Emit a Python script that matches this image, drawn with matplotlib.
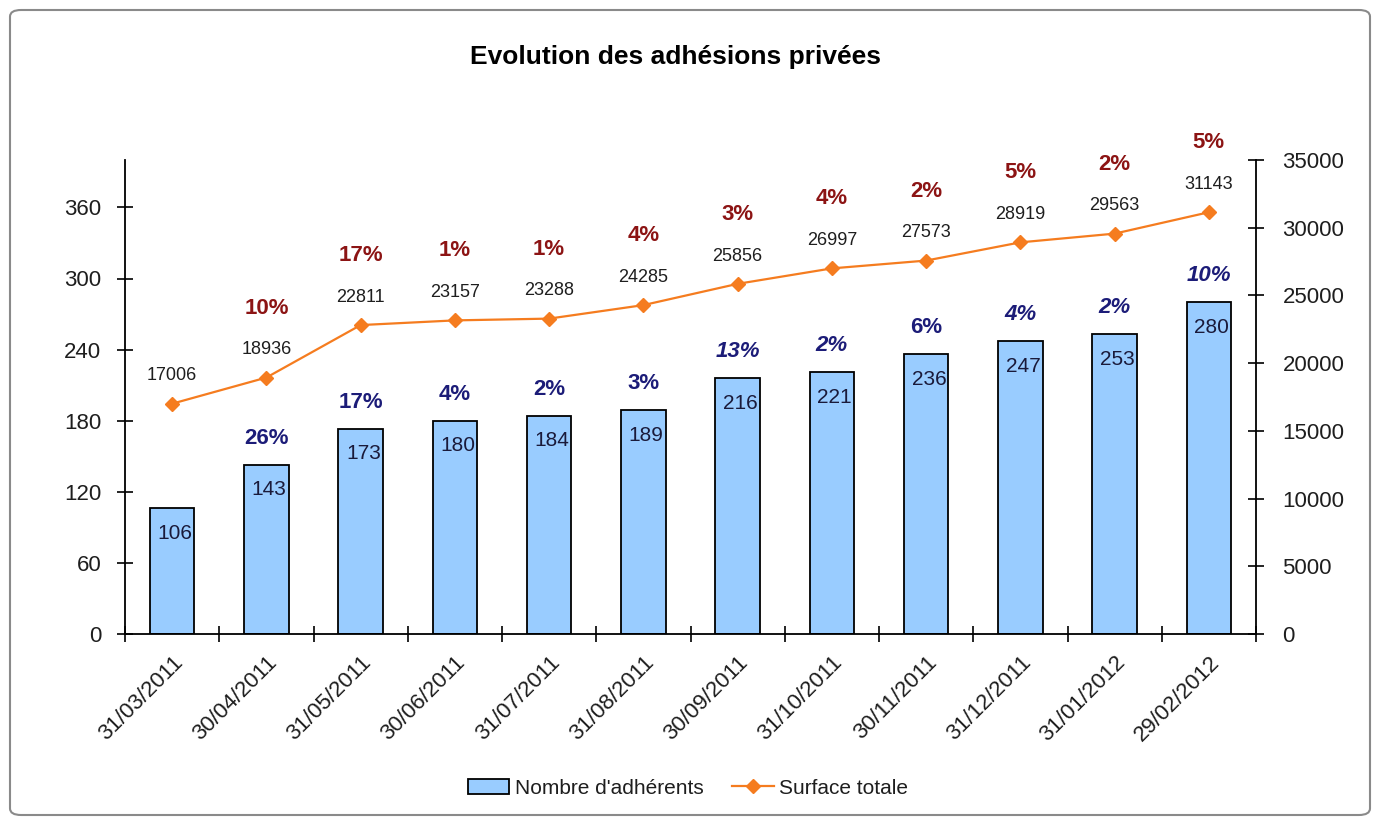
import numpy as np
import matplotlib
matplotlib.use("Agg")
import matplotlib.pyplot as plt
from matplotlib.patches import FancyBboxPatch, Patch
from matplotlib.lines import Line2D

plt.rcParams['font.family'] = ['Liberation Sans', 'DejaVu Sans']

# données
dates = ['31/03/2011', '30/04/2011', '31/05/2011', '30/06/2011', '31/07/2011', '31/08/2011',
         '30/09/2011', '31/10/2011', '30/11/2011', '31/12/2011', '31/01/2012', '29/02/2012']
adherents = [106, 143, 173, 180, 184, 189, 216, 221, 236, 247, 253, 280]
surface = [17006, 18936, 22811, 23157, 23288, 24285, 25856, 26997, 27573, 28919, 29563, 31143]
pct_adherents = ['', '26%', '17%', '4%', '2%', '3%', '13%', '2%', '6%', '4%', '2%', '10%']
pct_surface = ['', '10%', '17%', '1%', '1%', '4%', '3%', '4%', '2%', '5%', '2%', '5%']
left_ticks = [0, 60, 120, 180, 240, 300, 360]
right_ticks = [0, 5000, 10000, 15000, 20000, 25000, 30000, 35000]

# style des étiquettes bleues (certaines en italique)
adh_italic = [False, False, False, False, False, False, True, True, False, True, True, True]

BAR_COL = '#99CCFF'
LINE_COL = '#F57C1F'
BLUE_TXT = '#1C1C78'
RED_TXT = '#8C1414'
TXT = '#1E1E1E'

fig = plt.figure(figsize=(13.8, 8.23), dpi=100)
fig.patch.set_facecolor('white')

# cadre du graphique
frame = FancyBboxPatch((10 / 1380, 8 / 823), 1360 / 1380, 805 / 823,
                       boxstyle="round,pad=0,rounding_size=0.008",
                       transform=fig.transFigure, facecolor='none',
                       edgecolor='#8A8A8A', linewidth=1.5, zorder=-1)
fig.patches.append(frame)

ax1 = fig.add_axes([125 / 1380, 1 - 634 / 823, (1256 - 125) / 1380, (634 - 160) / 823])
ax1.patch.set_alpha(0)
x = np.arange(len(dates))

ax1.bar(x, adherents, width=0.47, color=BAR_COL, edgecolor='black', linewidth=1.3, zorder=2)
ax1.set_xlim(-0.5, len(dates) - 0.5)
ax1.set_ylim(0, 400)
ax1.set_yticks(left_ticks)
ax1.tick_params(axis='y', direction='inout', length=12, width=1.2, labelsize=16, pad=11,
                labelcolor=TXT)

ax1.set_xticks(x)
ax1.set_xticklabels(dates, rotation=45, ha='right', rotation_mode='anchor', fontsize=16,
                    color=TXT)
ax1.tick_params(axis='x', which='major', length=0, pad=13)
ax1.set_xticks(np.arange(-0.5, len(dates), 1.0), minor=True)
ax1.tick_params(axis='x', which='minor', direction='inout', length=12, width=1.2)

for s in ['left', 'bottom']:
    ax1.spines[s].set_linewidth(1.3)
ax1.spines['top'].set_visible(False)
ax1.spines['right'].set_visible(False)

for xi, v, p, it in zip(x, adherents, pct_adherents, adh_italic):
    ax1.annotate(str(v), (xi, v), xytext=(2, -18), textcoords='offset points',
                 ha='center', va='center', fontsize=15, color='#1A1A3A', zorder=5)
    if p:
        ax1.annotate(p, (xi, v), xytext=(0, 19), textcoords='offset points',
                     ha='center', va='center', fontsize=16, fontweight='bold',
                     style='italic' if it else 'normal', color=BLUE_TXT, zorder=5)

ax2 = ax1.twinx()
ax2.plot(x, surface, color=LINE_COL, linewidth=1.6, marker='D', markersize=7,
         markerfacecolor=LINE_COL, markeredgecolor=LINE_COL, zorder=3)
ax2.set_ylim(0, 35000)
ax2.set_yticks(right_ticks)
ax2.tick_params(axis='y', direction='inout', length=12, width=1.2, labelsize=16, pad=13,
                labelcolor=TXT)
ax2.spines['right'].set_linewidth(1.3)
for s in ['top', 'left', 'bottom']:
    ax2.spines[s].set_visible(False)

for xi, v, p in zip(x, surface, pct_surface):
    ax2.annotate(str(v), (xi, v), xytext=(0, 20), textcoords='offset points',
                 ha='center', va='center', fontsize=13, color=TXT)
    if p:
        ax2.annotate(p, (xi, v), xytext=(0, 50), textcoords='offset points',
                     ha='center', va='center', fontsize=16, fontweight='bold', color=RED_TXT)

fig.text(676 / 1380, 1 - 57 / 823, 'Evolution des adhésions privées',
         ha='center', va='center', fontsize=19, fontweight='bold')

handles = [Patch(facecolor=BAR_COL, edgecolor='black', linewidth=1.3),
           Line2D([0], [0], color=LINE_COL, linewidth=1.6, marker='D', markersize=7)]
fig.legend(handles, ["Nombre d'adhérents", 'Surface totale'], loc='center',
           bbox_to_anchor=(688 / 1380, 1 - 788 / 823), ncol=2, frameon=False,
           fontsize=15, handlelength=2.0, handletextpad=0.25, columnspacing=1.4,
           labelcolor=TXT)

fig.savefig('out.png', dpi=100)
